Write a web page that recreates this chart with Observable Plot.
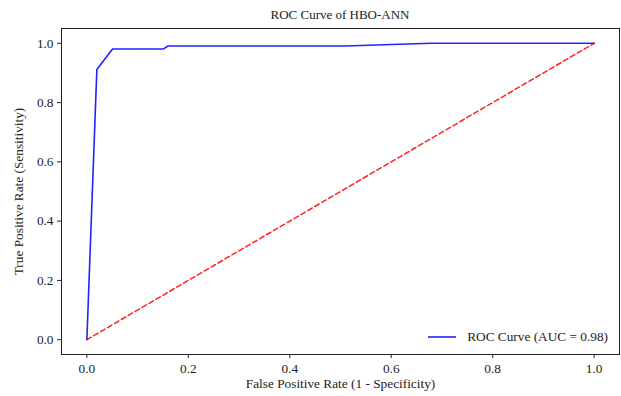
<!DOCTYPE html>
<html>
<head>
<meta charset="utf-8">
<script src="https://cdn.jsdelivr.net/npm/d3@7"></script>
<script src="https://cdn.jsdelivr.net/npm/@observablehq/plot@0.6"></script>
<style>
  body { margin: 0; background: #fff; font-family: "Times New Roman", "Liberation Serif", "DejaVu Serif", serif; }
  #wrap { position: relative; width: 621px; height: 396px; }
  #title { position: absolute; left: 61px; width: 558px; top: 7px; text-align: center; font-size: 13px; color: #222; }
  #chart { position: absolute; left: 0; top: 28px; }
  #chart svg, #chart svg text { font-family: "Times New Roman", "Liberation Serif", "DejaVu Serif", serif !important; }
  #legend { position: absolute; right: 13px; top: 329px; font-size: 13.3px; color: #222; display: flex; align-items: center; }
</style>
</head>
<body>
<div id="wrap">
  <div id="title">ROC Curve of HBO-ANN</div>
  <div id="chart"></div>
  <div id="legend"><svg width="30" height="6" style="margin-right:9px"><line x1="0" y1="3" x2="28" y2="3" stroke="#2222ff" stroke-width="1.6"/></svg><span id="legendText"></span></div>
</div>
<script>
const fpr = [0, 0.0197, 0.0506, 0.151, 0.160, 0.51, 0.60, 0.68, 1.0];
const tpr = [0, 0.912, 0.981, 0.981, 0.991, 0.991, 0.996, 1.0, 1.0];
const chanceX = [0, 1];
const chanceY = [0, 1];
const ticks = [0, 0.2, 0.4, 0.6, 0.8, 1.0];
const aucValue = 0.98;
const title = "ROC Curve of HBO-ANN";
const xLabel = "False Positive Rate (1 - Specificity)";
const yLabel = "True Positive Rate (Sensitivity)";

const roc = fpr.map((x, i) => ({x, y: tpr[i]}));
const chance = chanceX.map((x, i) => ({x, y: chanceY[i]}));

document.getElementById("title").textContent = title;
document.getElementById("legendText").textContent = `ROC Curve (AUC = ${aucValue.toFixed(2)})`;

const chart = Plot.plot({
  width: 621,
  height: 368,
  marginLeft: 61,
  marginRight: 2,
  marginTop: 0,
  marginBottom: 42,
  style: { fontFamily: "'Times New Roman', 'Liberation Serif', serif", fontSize: "13.3px", color: "#222", background: "white" },
  x: { domain: [-0.05, 1.05] },
  y: { domain: [-0.05, 1.05] },
  marks: [
    Plot.line(chance, { x: "x", y: "y", stroke: "#ff2222", strokeWidth: 1.5, strokeDasharray: "5,3" }),
    Plot.line(roc, { x: "x", y: "y", stroke: "#2222ff", strokeWidth: 1.6 }),
    Plot.frame({ stroke: "#222", strokeWidth: 1 }),
    Plot.axisX({ ticks, tickFormat: d3.format(".1f"), tickSize: 4, tickPadding: 5, label: xLabel, labelArrow: "none", labelAnchor: "center", labelOffset: 33, fontSize: 13.3 }),
    Plot.axisY({ ticks, tickFormat: d3.format(".1f"), tickSize: 4, tickPadding: 4, label: yLabel, labelArrow: "none", labelAnchor: "center", labelOffset: 48, fontSize: 13.3 })
  ]
});
document.getElementById("chart").appendChild(chart);
</script>
</body>
</html>
